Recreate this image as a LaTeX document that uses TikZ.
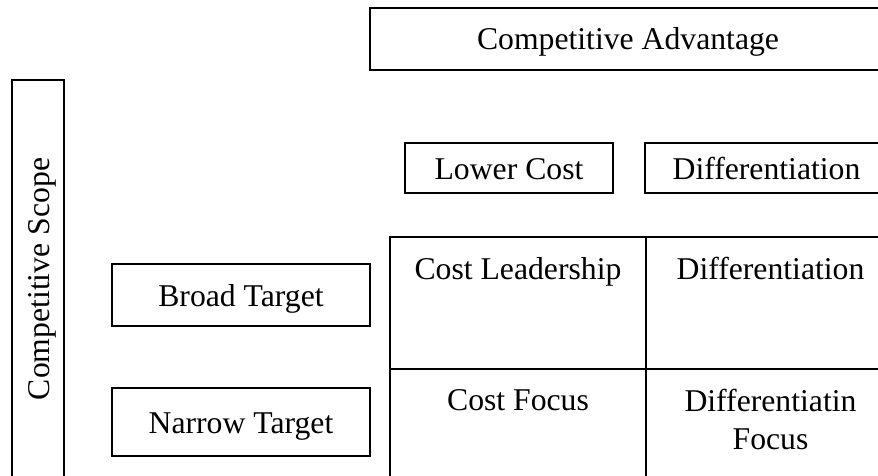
\documentclass[tikz,border=0pt]{standalone}
\usepackage{fontspec}
\setmainfont{Liberation Serif}

\begin{document}
\begin{tikzpicture}[x=1pt,y=-1pt,
   every node/.style={font=\fontsize{31.7}{38}\selectfont},
   box/.style={draw,line width=1.3pt,inner sep=0pt,text height=22pt,text depth=0pt},
   cell/.style={draw,line width=1.3pt,anchor=north west,inner sep=0pt,outer sep=0pt},
   celltext/.style={anchor=north,inner sep=0pt,yshift=-20pt,align=center}]
\useasboundingbox (0,0) rectangle (878,476);
\clip (0,0) rectangle (878,476);
% headings
\node[box,minimum width=516pt,minimum height=62pt] (advantage) at (628,39) {Competitive Advantage};
\node[box,rotate=90,minimum width=398pt,minimum height=52pt] (scope) at (38,279) {Competitive Scope};
\node[box,minimum width=208pt,minimum height=50pt] (lowcost) at (509,168) {Lower Cost};
\node[box,minimum width=243pt,minimum height=50pt] (differ) at (766.5,168) {Differentiation};
\node[box,minimum width=258pt,minimum height=62pt] (broad) at (241,295) {Broad Target};
\node[box,minimum width=258pt,minimum height=68pt] (narrow) at (241,422) {Narrow Target};
% the 2x2 grid
\node[cell,minimum width=256pt,minimum height=132pt] (costlead) at (390,237) {};
\node[cell,minimum width=249pt,minimum height=132pt] (difflead) at (costlead.north east) {};
\node[cell,minimum width=256pt,minimum height=131pt] (costfocus) at (costlead.south west) {};
\node[cell,minimum width=249pt,minimum height=131pt] (difffocus) at (costlead.south east) {};
\node[celltext] (costleadtext) at (costlead.north) {Cost Leadership};
\node[celltext] (diffleadtext) at (difflead.north) {Differentiation};
\node[celltext] (costfocustext) at (costfocus.north) {Cost Focus};
\node[celltext] (difffocustext) at (difffocus.north) {Differentiatin\\Focus};
\end{tikzpicture}
\end{document}
